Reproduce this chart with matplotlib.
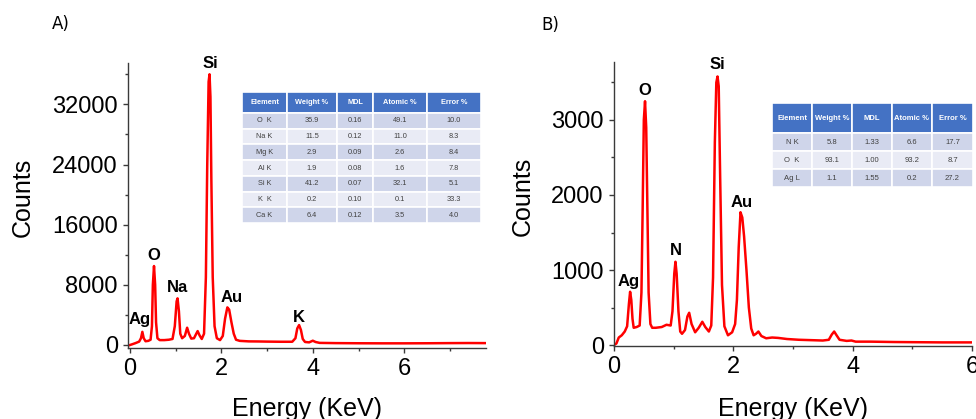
import matplotlib
matplotlib.use("Agg")
import matplotlib.pyplot as plt
from matplotlib.patches import Rectangle
from matplotlib.ticker import MultipleLocator

plt.rcParams['font.family'] = ['Liberation Sans', 'DejaVu Sans']

# ---------------- data ----------------
# Panel A spectrum: energy (KeV) and counts
energy_a = [0.00, 0.05, 0.12, 0.20, 0.24, 0.27, 0.30, 0.34, 0.40, 0.45,
            0.48, 0.50, 0.525, 0.55, 0.57, 0.60, 0.65, 0.75, 0.85, 0.93,
            0.98, 1.02, 1.04, 1.07, 1.10, 1.14, 1.20, 1.25, 1.29, 1.34,
            1.40, 1.45, 1.48, 1.52, 1.57, 1.62, 1.66, 1.69, 1.72, 1.74,
            1.76, 1.78, 1.81, 1.85, 1.90, 1.97, 2.03, 2.08, 2.13, 2.17,
            2.22, 2.27, 2.32, 2.40, 2.60, 2.80, 3.00, 3.30, 3.55, 3.62,
            3.66, 3.70, 3.74, 3.78, 3.83, 3.92, 4.00, 4.06, 4.15, 4.50,
            5.00, 5.50, 6.00, 6.50, 7.00, 7.40, 7.78]
counts_a = [0, 100, 250, 450, 900, 1750, 900, 500, 550, 700,
            2500, 8000, 10500, 8000, 3000, 900, 650, 650, 700, 800,
            2500, 5800, 6200, 4500, 1500, 900, 1200, 2300, 1500, 850,
            900, 1500, 1850, 1300, 800, 1500, 9000, 24000, 35000, 36000,
            33000, 22000, 9000, 2500, 900, 650, 1200, 3500, 5000, 4700,
            3000, 1500, 700, 550, 480, 470, 450, 430, 430, 900,
            2200, 2650, 2000, 800, 400, 350, 570, 400, 280, 250,
            230, 220, 220, 230, 250, 260, 250]

# Panel B spectrum
energy_b = [0.00, 0.04, 0.08, 0.13, 0.18, 0.22, 0.25, 0.27, 0.29, 0.31,
            0.33, 0.38, 0.43, 0.46, 0.48, 0.50, 0.52, 0.54, 0.56, 0.58,
            0.61, 0.64, 0.70, 0.80, 0.88, 0.95, 0.98, 1.01, 1.03, 1.05,
            1.08, 1.11, 1.14, 1.19, 1.23, 1.26, 1.30, 1.36, 1.42, 1.48,
            1.53, 1.59, 1.63, 1.66, 1.69, 1.715, 1.735, 1.755, 1.78, 1.81,
            1.85, 1.91, 1.98, 2.03, 2.06, 2.09, 2.12, 2.15, 2.18, 2.22,
            2.26, 2.30, 2.34, 2.38, 2.42, 2.47, 2.55, 2.65, 2.75, 2.90,
            3.10, 3.30, 3.50, 3.60, 3.65, 3.69, 3.73, 3.78, 3.90, 3.98,
            4.05, 4.30, 4.70, 5.00, 5.50, 6.00]
counts_b = [0, 20, 100, 130, 180, 250, 550, 710, 600, 350,
            230, 240, 260, 700, 1800, 3000, 3250, 2900, 1800, 700,
            280, 230, 230, 240, 270, 260, 450, 950, 1110, 950,
            450, 180, 150, 200, 380, 430, 280, 170, 230, 310,
            240, 180, 260, 900, 2700, 3500, 3580, 3450, 2200, 800,
            250, 130, 170, 280, 600, 1300, 1770, 1700, 1450, 1000,
            500, 220, 130, 150, 180, 120, 90, 100, 95, 80,
            70, 65, 60, 70, 140, 180, 130, 70, 55, 60,
            45, 45, 40, 38, 35, 35]

# Peak labels (element, energy, counts at label centre)
peaks_a = [("Si", 1.75, 37370), ("O", 0.525, 11840), ("Na", 1.05, 7580),
           ("Ag", 0.22, 3325), ("Au", 2.23, 6250), ("K", 3.69, 3720)]
peaks_b = [("Si", 1.725, 3746), ("O", 0.52, 3399), ("N", 1.04, 1266),
           ("Ag", 0.25, 842), ("Au", 2.14, 1906)]

# Tables
cols_a = ["Element", "Weight %", "MDL", "Atomic %", "Error %"]
rows_a = [["O  K", "35.9", "0.16", "49.1", "10.0"],
          ["Na K", "11.5", "0.12", "11.0", "8.3"],
          ["Mg K", "2.9", "0.09", "2.6", "8.4"],
          ["Al K", "1.9", "0.08", "1.6", "7.8"],
          ["Si K", "41.2", "0.07", "32.1", "5.1"],
          ["K  K", "0.2", "0.10", "0.1", "33.3"],
          ["Ca K", "6.4", "0.12", "3.5", "4.0"]]
cols_b = ["Element", "Weight %", "MDL", "Atomic %", "Error %"]
rows_b = [["N K", "5.8", "1.33", "6.6", "17.7"],
          ["O  K", "93.1", "1.00", "93.2", "8.7"],
          ["Ag L", "1.1", "1.55", "0.2", "27.2"]]

# ---------------- figure ----------------
W, H = 976, 419
fig = plt.figure(figsize=(W / 100, H / 100), dpi=100)


def frac(x0, y0, x1, y1):
    """pixel box (left, top, right, bottom) -> figure fraction rect"""
    return [x0 / W, 1 - y1 / H, (x1 - x0) / W, (y1 - y0) / H]


RED = "#FF0000"
SPINE = "#3a3a3a"


def style_axes(ax):
    for s in ("top", "right"):
        ax.spines[s].set_visible(False)
    for s in ("left", "bottom"):
        ax.spines[s].set_color(SPINE)
        ax.spines[s].set_linewidth(1.0)
    ax.tick_params(axis="both", which="major", direction="out", length=3.8,
                   width=1, color=SPINE, labelsize=17, labelcolor="black")
    ax.tick_params(axis="both", which="minor", direction="out", length=2.4,
                   width=1, color=SPINE)
    ax.tick_params(axis="x", which="major", pad=3.5)
    ax.tick_params(axis="y", which="major", pad=3.5)


def draw_table(rect, cols, rows, col_w, header_h, row_h, fs):
    tax = fig.add_axes(rect)
    tw = sum(col_w)
    th = header_h + row_h * len(rows)
    tax.set_xlim(0, tw)
    tax.set_ylim(th, 0)
    tax.axis("off")
    x = 0
    for j, c in enumerate(cols):
        tax.add_patch(Rectangle((x, 0), col_w[j], header_h, facecolor="#4472C4",
                                edgecolor="white", linewidth=1.2))
        tax.text(x + col_w[j] / 2, header_h / 2, c, ha="center", va="center",
                 color="white", fontsize=fs, fontweight="bold")
        x += col_w[j]
    for i, r in enumerate(rows):
        y = header_h + i * row_h
        fc = "#CFD5EA" if i % 2 == 0 else "#E9EBF5"
        x = 0
        for j, v in enumerate(r):
            tax.add_patch(Rectangle((x, y), col_w[j], row_h, facecolor=fc,
                                    edgecolor="white", linewidth=1.2))
            tax.text(x + col_w[j] / 2, y + row_h / 2, v, ha="center",
                     va="center", color="#404040", fontsize=fs)
            x += col_w[j]


# ---- Panel A ----
axA = fig.add_axes(frac(128, 63, 486, 348))
axA.plot(energy_a, counts_a, color=RED, linewidth=1.8)
axA.set_xlim(-0.044, 7.79)
axA.set_ylim(-400, 37500)
axA.xaxis.set_major_locator(MultipleLocator(2))
axA.xaxis.set_minor_locator(MultipleLocator(1))
axA.yaxis.set_major_locator(MultipleLocator(8000))
axA.yaxis.set_minor_locator(MultipleLocator(4000))
style_axes(axA)
axA.set_ylabel("Counts", fontsize=18)
axA.yaxis.label.set_va("center")
axA.yaxis.set_label_coords(-0.293, 0.53)
axA.set_xlabel("Energy (KeV)", fontsize=18)
axA.xaxis.label.set_va("baseline")
axA.xaxis.set_label_coords(0.5, -0.237)
for name, e, c in peaks_a:
    axA.text(e, c, name, ha="center", va="center", fontsize=12,
             fontweight="bold", color="black")

# ---- Panel B ----
axB = fig.add_axes(frac(614, 62, 972, 346))
axB.plot(energy_b, counts_b, color=RED, linewidth=1.8)
axB.set_xlim(0, 6)
axB.set_ylim(-13, 3773)
axB.xaxis.set_major_locator(MultipleLocator(2))
axB.xaxis.set_minor_locator(MultipleLocator(1))
axB.yaxis.set_major_locator(MultipleLocator(1000))
axB.yaxis.set_minor_locator(MultipleLocator(500))
style_axes(axB)
axB.set_ylabel("Counts", fontsize=18)
axB.yaxis.label.set_va("center")
axB.yaxis.set_label_coords(-0.256, 0.528)
axB.set_xlabel("Energy (KeV)", fontsize=18)
axB.xaxis.label.set_va("baseline")
axB.xaxis.set_label_coords(0.5, -0.245)
for name, e, c in peaks_b:
    axB.text(e, c, name, ha="center", va="center", fontsize=12,
             fontweight="bold", color="black")

# ---- tables ----
draw_table(frac(242, 92, 481, 223), cols_a, rows_a,
           [45, 50, 36, 54, 54], 21, 15.7, 5.3)
draw_table(frac(772, 103, 973, 187), cols_b, rows_b,
           [40, 40, 40, 40, 41], 30, 18, 5.5)

# ---- panel letters ----
fig.text(52 / W, 1 - 24 / H, "A)", fontsize=12, ha="left", va="center",
         family="DejaVu Sans")
fig.text(541 / W, 1 - 25 / H, "B)", fontsize=12, ha="left", va="center",
         family="DejaVu Sans")

fig.savefig("out.png", dpi=100)
